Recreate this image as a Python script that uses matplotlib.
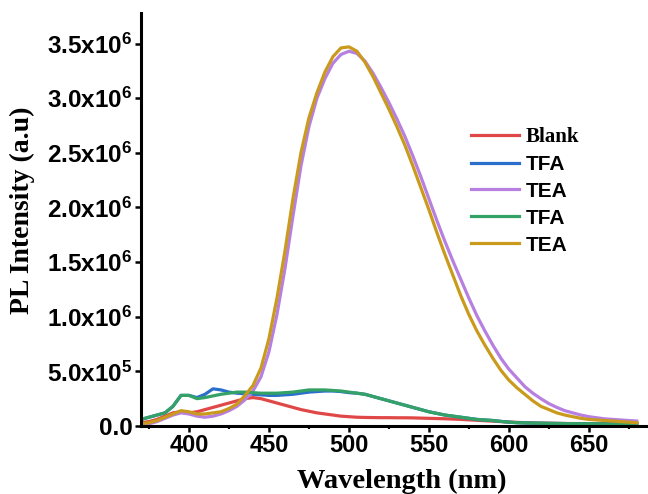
import matplotlib
matplotlib.use("Agg")
import matplotlib.pyplot as plt
from matplotlib.ticker import FixedLocator, FixedFormatter, MultipleLocator

plt.rcParams['mathtext.fontset'] = 'custom'
plt.rcParams['mathtext.rm'] = 'Liberation Sans:bold'
plt.rcParams['mathtext.bf'] = 'Liberation Sans:bold'
plt.rcParams['mathtext.it'] = 'Liberation Sans:bold'

wavelength = list(range(370, 681, 5))

blank = [0.03, 0.04, 0.06, 0.09, 0.12, 0.13, 0.12, 0.13, 0.15, 0.17,
         0.19, 0.21, 0.23, 0.25, 0.26, 0.25, 0.23, 0.21, 0.19, 0.17,
         0.15, 0.135, 0.12, 0.11, 0.10, 0.09, 0.085, 0.08, 0.078, 0.077,
         0.076, 0.076, 0.075, 0.075, 0.074, 0.072, 0.07, 0.068, 0.066, 0.063,
         0.06, 0.056, 0.052, 0.048, 0.044, 0.04, 0.036, 0.033, 0.03, 0.028,
         0.026, 0.025, 0.024, 0.023, 0.022, 0.022, 0.021, 0.021, 0.02, 0.02,
         0.02, 0.02, 0.02]

tfa1 = [0.06, 0.08, 0.10, 0.12, 0.18, 0.28, 0.28, 0.26, 0.29, 0.34,
        0.33, 0.31, 0.30, 0.295, 0.29, 0.285, 0.28, 0.28, 0.285, 0.29,
        0.30, 0.31, 0.315, 0.32, 0.32, 0.315, 0.305, 0.30, 0.29, 0.27,
        0.25, 0.23, 0.21, 0.19, 0.17, 0.15, 0.13, 0.115, 0.10, 0.09,
        0.08, 0.07, 0.06, 0.055, 0.05, 0.042, 0.035, 0.03, 0.028, 0.026,
        0.025, 0.024, 0.023, 0.022, 0.021, 0.02, 0.02, 0.019, 0.019, 0.018,
        0.018, 0.018, 0.018]

tea1 = [0.01, 0.02, 0.04, 0.07, 0.10, 0.12, 0.11, 0.09, 0.08, 0.09,
        0.11, 0.14, 0.18, 0.24, 0.32, 0.45, 0.68, 1.02, 1.44, 1.92,
        2.38, 2.74, 3.00, 3.18, 3.32, 3.40, 3.43, 3.41, 3.34, 3.23,
        3.10, 2.96, 2.81, 2.65, 2.47, 2.28, 2.08, 1.88, 1.69, 1.51,
        1.34, 1.17, 1.01, 0.87, 0.74, 0.62, 0.52, 0.44, 0.36, 0.30,
        0.25, 0.205, 0.17, 0.14, 0.12, 0.10, 0.085, 0.075, 0.065, 0.06,
        0.055, 0.05, 0.045]

tfa2 = [0.06, 0.08, 0.10, 0.12, 0.18, 0.28, 0.28, 0.25, 0.26, 0.275,
        0.29, 0.30, 0.31, 0.31, 0.305, 0.30, 0.30, 0.30, 0.305, 0.31,
        0.32, 0.33, 0.33, 0.33, 0.325, 0.32, 0.31, 0.30, 0.29, 0.27,
        0.25, 0.23, 0.21, 0.19, 0.17, 0.15, 0.13, 0.115, 0.10, 0.09,
        0.08, 0.07, 0.06, 0.055, 0.05, 0.042, 0.035, 0.03, 0.028, 0.026,
        0.025, 0.024, 0.023, 0.022, 0.021, 0.02, 0.02, 0.019, 0.019, 0.018,
        0.018, 0.018, 0.018]

tea2 = [0.02, 0.03, 0.05, 0.08, 0.11, 0.14, 0.13, 0.11, 0.11, 0.12,
        0.13, 0.16, 0.20, 0.28, 0.37, 0.53, 0.80, 1.17, 1.60, 2.08,
        2.50, 2.82, 3.05, 3.24, 3.38, 3.46, 3.47, 3.43, 3.33, 3.20,
        3.05, 2.90, 2.74, 2.57, 2.38, 2.18, 1.98, 1.77, 1.57, 1.38,
        1.19, 1.02, 0.87, 0.74, 0.62, 0.51, 0.42, 0.35, 0.29, 0.23,
        0.18, 0.15, 0.12, 0.10, 0.085, 0.07, 0.06, 0.055, 0.05, 0.045,
        0.04, 0.035, 0.03]

series = [
    ("Blank", blank, "#e04848"),
    ("TFA", tfa1, "#2a6fcc"),
    ("TEA", tea1, "#b77fe0"),
    ("TFA", tfa2, "#34a266"),
    ("TEA", tea2, "#c99a1c"),
]

y_ticks = [0.0, 0.5e6, 1.0e6, 1.5e6, 2.0e6, 2.5e6, 3.0e6, 3.5e6]
y_tick_labels = ["0.0", r"5.0x10$^{5}$", r"1.0x10$^{6}$", r"1.5x10$^{6}$",
                 r"2.0x10$^{6}$", r"2.5x10$^{6}$", r"3.0x10$^{6}$", r"3.5x10$^{6}$"]
x_ticks = [400, 450, 500, 550, 600, 650]

fig = plt.figure(figsize=(6.48, 4.94), dpi=100)
ax = fig.add_axes([0.2176, 0.1377, 0.7824, 0.836])

for label, vals, color in series:
    ax.plot(wavelength, [v * 1e6 for v in vals], color=color, lw=2.3, label=label)

ax.set_xlim(370, 687)
ax.set_ylim(0, 3.78e6)

for s in ['top', 'right']:
    ax.spines[s].set_visible(False)
for s in ['left', 'bottom']:
    ax.spines[s].set_linewidth(2.2)

ax.xaxis.set_major_locator(FixedLocator(x_ticks))
ax.xaxis.set_minor_locator(MultipleLocator(25))
ax.yaxis.set_major_locator(FixedLocator(y_ticks))
ax.yaxis.set_major_formatter(FixedFormatter(y_tick_labels))
ax.tick_params(axis='both', which='major', direction='out', length=4, width=1.8, pad=2)
ax.tick_params(axis='x', which='minor', direction='out', length=2.5, width=1.5)
ax.tick_params(axis='y', which='minor', left=False)

for t in ax.get_xticklabels():
    t.set_fontfamily('Liberation Sans')
    t.set_fontweight('bold')
    t.set_fontsize(17)
for t in ax.get_yticklabels():
    t.set_fontfamily('Liberation Sans')
    t.set_fontweight('bold')
    t.set_fontsize(17.5)

ax.set_xlabel("Wavelength (nm)", fontfamily='Liberation Serif', fontweight='bold',
              fontsize=20.5)
ax.set_ylabel("PL Intensity (a.u)", fontfamily='Liberation Serif', fontweight='bold',
              fontsize=20)
ax.xaxis.set_label_coords(0.515, -0.104)
ax.yaxis.set_label_coords(-0.21, 0.523)

leg = fig.legend(loc='upper left', bbox_to_anchor=(0.727, 0.743), frameon=False,
                 handlelength=2.3, handletextpad=0.3, labelspacing=0.38,
                 borderpad=0, borderaxespad=0,
                 prop={'family': 'Liberation Sans', 'weight': 'bold', 'size': 15})
for i, t in enumerate(leg.get_texts()):
    if i == 0:
        t.set_fontfamily('Liberation Serif')
for line in leg.get_lines():
    line.set_linewidth(2.3)

fig.savefig("out.png", dpi=100)
